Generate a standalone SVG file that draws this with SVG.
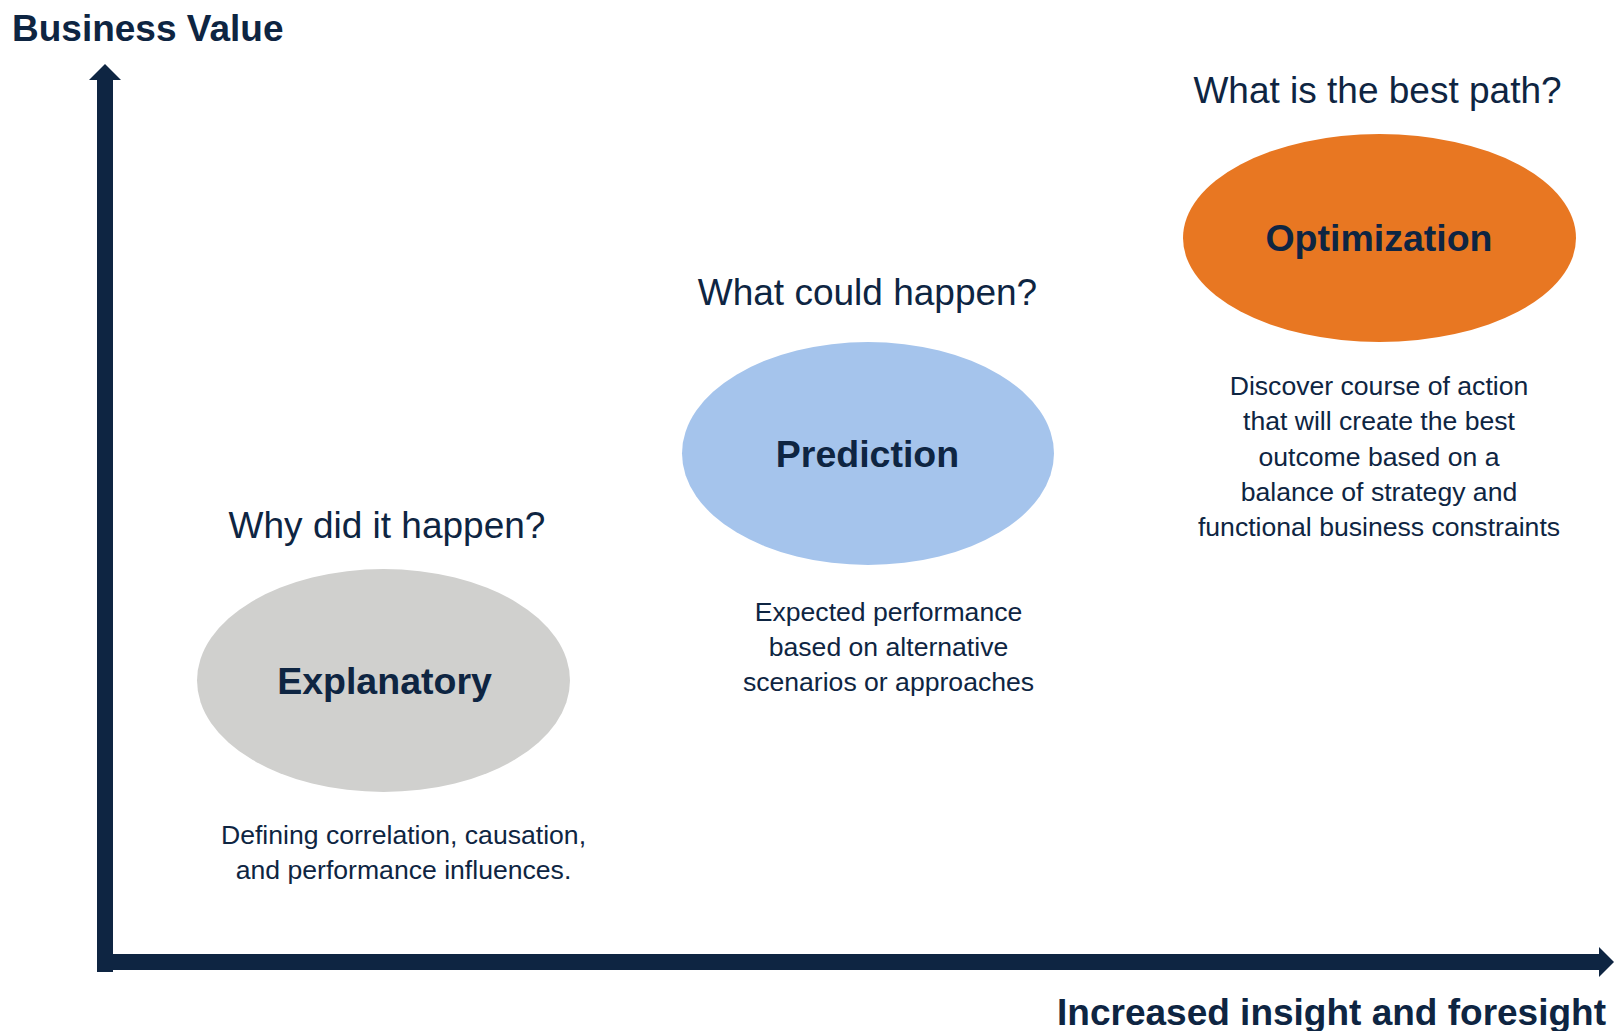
<svg xmlns="http://www.w3.org/2000/svg" width="1614" height="1031" viewBox="0 0 1614 1031">
  <style>
    text { font-family: "Liberation Sans", Arial, sans-serif; fill: #0E2542; }
    .axis-label { font-size: 37px; font-weight: bold; }
    .node-label { font-size: 37.5px; font-weight: bold; text-anchor: middle; }
    .question { font-size: 37px; text-anchor: middle; }
    .desc { font-size: 26.6px; text-anchor: middle; }
    .axis { fill: #0E2542; }
  </style>
  <rect width="1614" height="1031" fill="#FFFFFF"/>

  <g id="connectors">
    <g id="y-axis">
      <rect class="axis" x="97" y="79" width="16" height="893"/>
      <polygon class="axis" points="89,80 105,64 121,80"/>
    </g>
    <g id="x-axis">
      <rect class="axis" x="97" y="954" width="1503" height="16"/>
      <polygon class="axis" points="1599,947 1614,962 1599,977"/>
    </g>
  </g>

  <text class="axis-label" x="12" y="41">Business Value</text>
  <text class="axis-label" x="1606" y="1025" text-anchor="end">Increased insight and foresight</text>

  <g id="explanatory">
    <text class="question" x="387" y="538">Why did it happen?</text>
    <ellipse cx="383.5" cy="680.5" rx="186.5" ry="111.5" fill="#D0D0CE"/>
    <text class="node-label" x="384.5" y="694">Explanatory</text>
    <text class="desc" x="403.5" y="844">Defining correlation, causation,</text>
    <text class="desc" x="403.5" y="879">and performance influences.</text>
  </g>

  <g id="prediction">
    <text class="question" x="867.5" y="305">What could happen?</text>
    <ellipse cx="868" cy="453.5" rx="186" ry="111.5" fill="#A5C4EC"/>
    <text class="node-label" x="867.5" y="467">Prediction</text>
    <text class="desc" x="888.5" y="621">Expected performance</text>
    <text class="desc" x="888.5" y="656">based on alternative</text>
    <text class="desc" x="888.5" y="691">scenarios or approaches</text>
  </g>

  <g id="optimization">
    <text class="question" x="1377.5" y="103">What is the best path?</text>
    <ellipse cx="1379.5" cy="238" rx="196.5" ry="104" fill="#E87722"/>
    <text class="node-label" x="1379" y="251">Optimization</text>
    <text class="desc" x="1379" y="395">Discover course of action</text>
    <text class="desc" x="1379" y="430">that will create the best</text>
    <text class="desc" x="1379" y="465.5">outcome based on a</text>
    <text class="desc" x="1379" y="501">balance of strategy and</text>
    <text class="desc" x="1379" y="536">functional business constraints</text>
  </g>
</svg>
